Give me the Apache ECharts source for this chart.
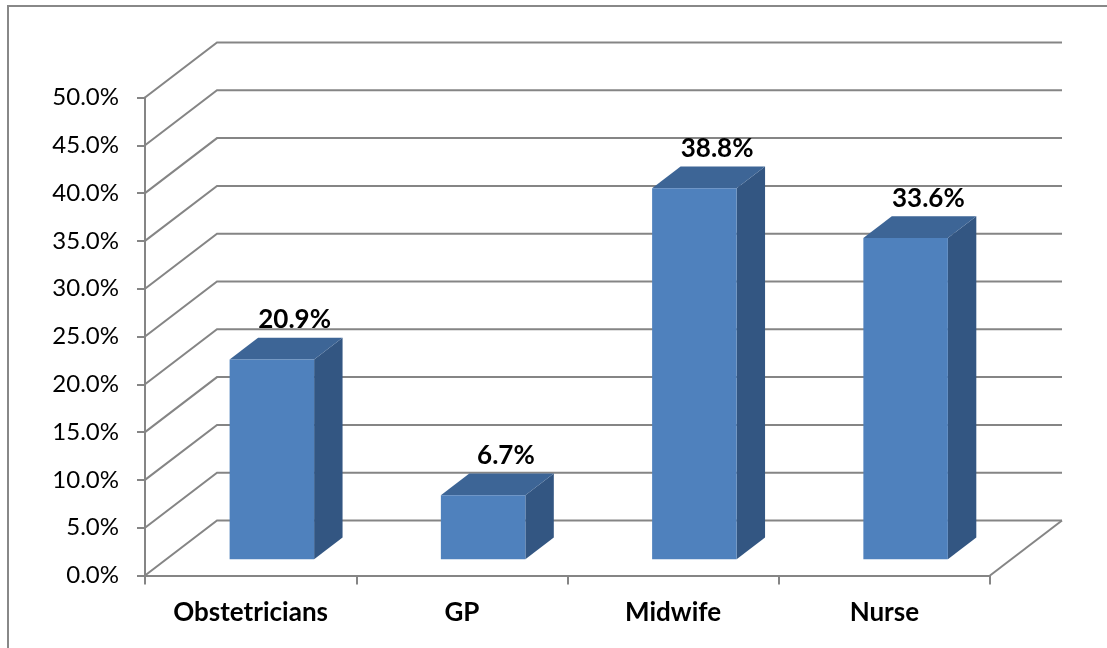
<!DOCTYPE html>
<html>
<head>
<meta charset="utf-8">
<title>Health professionals</title>
<script src="https://cdn.jsdelivr.net/npm/echarts@6.0.0/dist/echarts.min.js"></script>
<style>
  html, body { margin: 0; padding: 0; background: #ffffff; }
  #chart { width: 1107px; height: 648px; }
</style>
</head>
<body>
<div id="chart"></div>
<script>
// Share of respondents by health professional
const categories = ['Obstetricians', 'GP', 'Midwife', 'Nurse'];
const shares = [20.9, 6.7, 38.8, 33.6];
const yTicks = [0, 5, 10, 15, 20, 25, 30, 35, 40, 45, 50];

// Oblique 3D look: depth of the floor in pixels, and the slice of it that the bars occupy
const DEPTH_X = 72, DEPTH_Y = -55;
const BAR_FRONT = 0.295, BAR_BACK = 0.69;
const BAR_WIDTH_RATIO = 0.4;
const GRID_COLOR = '#858585';
const FRONT = '#4F81BD', TOP = '#3D6596', SIDE = '#335682';

const chart = echarts.init(document.getElementById('chart'));

function renderWall(params, api) {
  const cs = params.coordSys;
  const t = api.value(1);
  const p = api.coord([0, t]);
  const left = cs.x, right = cs.x + cs.width, y = p[1];
  const children = [{
    type: 'polyline',
    shape: { points: [[left, y], [left + DEPTH_X, y + DEPTH_Y], [right + DEPTH_X, y + DEPTH_Y]] },
    style: { stroke: GRID_COLOR, lineWidth: 2, fill: null }
  }];
  if (t === 0) {
    // right edge of the floor
    children.push({
      type: 'line',
      shape: { x1: right, y1: y, x2: right + DEPTH_X, y2: y + DEPTH_Y },
      style: { stroke: GRID_COLOR, lineWidth: 2 }
    });
  }
  return { type: 'group', children: children };
}

function renderBar(params, api) {
  const idx = api.value(0);
  const v = api.value(1);
  const base = api.coord([idx, 0]);
  const top = api.coord([idx, v]);
  const w = api.size([1, 0])[0] * BAR_WIDTH_RATIO;
  const fx = DEPTH_X * BAR_FRONT, fy = DEPTH_Y * BAR_FRONT;
  const bx = DEPTH_X * BAR_BACK, by = DEPTH_Y * BAR_BACK;
  const L = base[0] - w / 2, R = base[0] + w / 2;
  const yt = top[1], yb = base[1];
  return {
    type: 'group',
    children: [
      {
        type: 'polygon',
        shape: { points: [[R + fx, yt + fy], [R + bx, yt + by], [R + bx, yb + by], [R + fx, yb + fy]] },
        style: { fill: SIDE }
      },
      {
        type: 'polygon',
        shape: { points: [[L + fx, yt + fy], [R + fx, yt + fy], [R + bx, yt + by], [L + bx, yt + by]] },
        style: { fill: TOP }
      },
      {
        type: 'rect',
        shape: { x: L + fx, y: yt + fy, width: w, height: yb - yt },
        style: { fill: FRONT }
      },
      {
        type: 'text',
        style: {
          text: v.toFixed(1) + '%',
          x: base[0] + 44,
          y: yt + by - 18,
          align: 'center',
          verticalAlign: 'middle',
          font: 'bold 26px Lato',
          fill: '#000000'
        }
      }
    ]
  };
}

chart.setOption({
  backgroundColor: '#ffffff',
  animation: false,
  graphic: [{
    type: 'rect',
    shape: { x: 8, y: 6, width: 1130, height: 670 },
    style: { fill: null, stroke: '#888888', lineWidth: 2 },
    z: 0
  }],
  grid: { left: 145, right: 117, top: 97.5, bottom: 72.5 },
  xAxis: {
    type: 'category',
    data: categories,
    axisLine: { lineStyle: { color: GRID_COLOR, width: 2 } },
    axisTick: { show: true, length: 9, lineStyle: { color: GRID_COLOR, width: 2 } },
    axisLabel: { color: '#000000', fontFamily: 'Lato', fontWeight: 'bold', fontSize: 26, margin: 24 },
    splitLine: { show: false }
  },
  yAxis: {
    type: 'value',
    min: 0, max: 50, interval: 5,
    axisLine: { show: true, lineStyle: { color: GRID_COLOR, width: 2 } },
    axisTick: { show: true, length: 8, lineStyle: { color: GRID_COLOR, width: 2 } },
    axisLabel: {
      color: '#000000', fontFamily: 'Lato', fontSize: 24, margin: 26,
      formatter: function (val) { return val.toFixed(1) + '%'; }
    },
    splitLine: { show: false }
  },
  series: [
    {
      type: 'custom',
      name: 'walls',
      renderItem: renderWall,
      data: yTicks.map(function (t) { return [0, t]; }),
      clip: false,
      silent: true,
      z: 1
    },
    {
      type: 'custom',
      name: 'shares',
      renderItem: renderBar,
      data: shares.map(function (v, i) { return [i, v]; }),
      clip: false,
      z: 3
    }
  ]
});
</script>
</body>
</html>
